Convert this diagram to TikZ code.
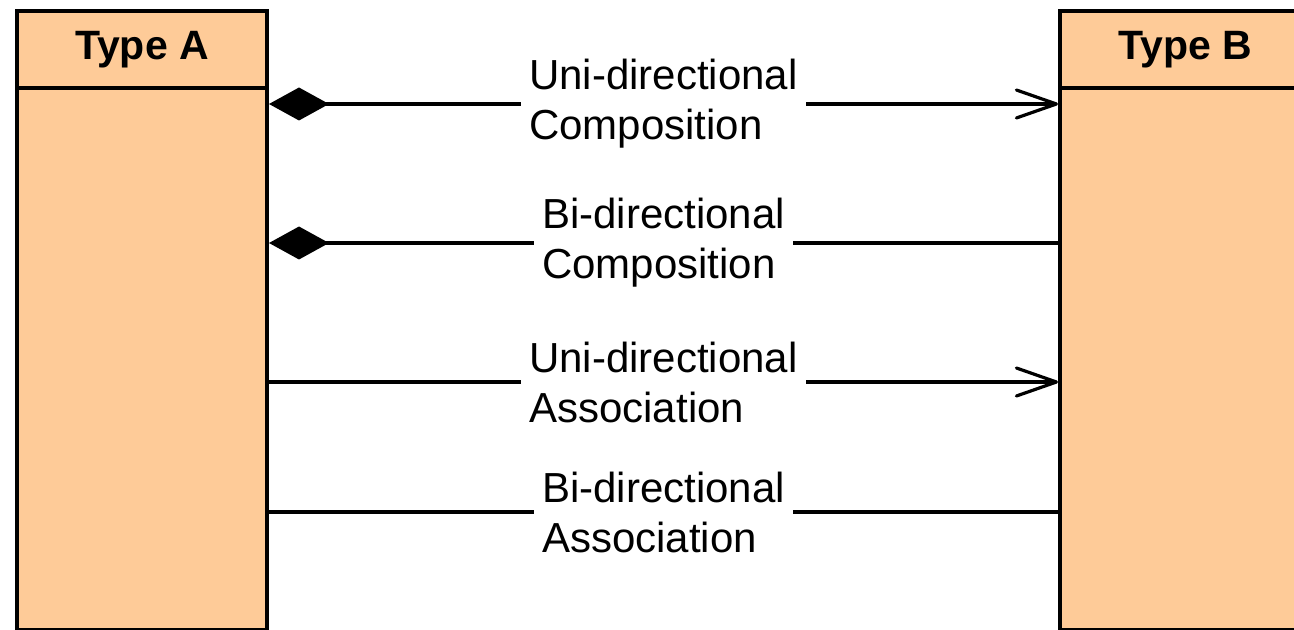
\documentclass[tikz,border=0pt]{standalone}
\usepackage{fontspec}
\setmainfont{Liberation Sans}
\usetikzlibrary{arrows.meta}
\definecolor{classfill}{HTML}{FECB98}
\tikzset{
  classhead/.style={draw=black, line width=2pt, fill=classfill, inner sep=0pt,
    anchor=north west, minimum width=125pt, minimum height=38.25pt,
    font=\fontsize{20.5}{24}\selectfont\bfseries},
  classbody/.style={draw=black, line width=2pt, fill=classfill, inner sep=0pt,
    anchor=north west, minimum width=125pt, minimum height=271pt},
  link/.style={draw=black, line width=1.6pt},
  comp/.style={{Diamond[length=30pt,width=16.5pt]}-},
  navig/.style={-{Straight Barb[length=20pt,width=14pt,round]}},
  compnavig/.style={{Diamond[length=30pt,width=16.5pt]}-{Straight Barb[length=20pt,width=14pt,round]}},
  linklabel/.style={fill=white, inner xsep=4pt, inner ysep=2pt, align=left,
    font=\fontsize{21}{25}\selectfont}
}
\begin{document}
\begin{tikzpicture}[x=0.5pt, y=-0.5pt]
  \clip (0,0) rectangle (1294,630);
  \useasboundingbox (0,0) rectangle (1294,630);

  % Class Type A
  \node[classbody] (bodyA) at (15,86) {};
  \node[classhead] (headA) at (15,9.5) {Type A};
  % Class Type B (runs past the right edge)
  \node[classbody] (bodyB) at (1058,86) {};
  \node[classhead] (headB) at (1058,9.5) {Type B};

  % Relationships
  \draw[link, compnavig] (bodyA.east |- 0,104) -- node[linklabel] {Uni-directional\\Composition} (bodyB.west |- 0,104);
  \draw[link, comp] (bodyA.east |- 0,243) -- node[linklabel] {Bi-directional\\Composition} (bodyB.west |- 0,243);
  \draw[link, navig] (bodyA.east |- 0,382) -- node[linklabel] {Uni-directional\\Association} (bodyB.west |- 0,382);
  \draw[link] (bodyA.east |- 0,512) -- node[linklabel] {Bi-directional\\Association} (bodyB.west |- 0,512);
\end{tikzpicture}
\end{document}
